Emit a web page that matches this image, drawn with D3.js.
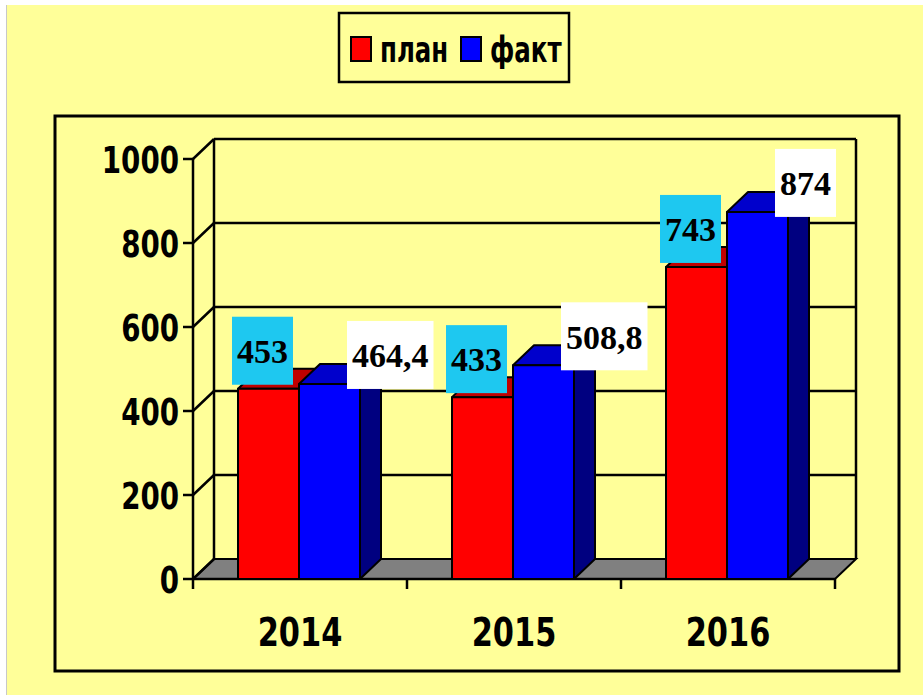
<!DOCTYPE html>
<html>
<head>
<meta charset="utf-8">
<script src="https://cdn.jsdelivr.net/npm/d3@7"></script>
<style>
  html, body { margin: 0; padding: 0; background: #fff; }
  svg { display: block; }
  .narrow { font-family: "DejaVu Sans", sans-serif; font-weight: bold; }
  .lbl { font-family: "Liberation Serif", "Times New Roman", serif; font-weight: bold; }
</style>
</head>
<body>
<svg id="chart" width="923" height="695"></svg>
<script>
// data
var years = ["2014", "2015", "2016"];
var seriesNames = ["план", "факт"];
var plan = [453, 433, 743];
var fact = [464.4, 508.8, 874];
var planLabels = ["453", "433", "743"];
var factLabels = ["464,4", "508,8", "874"];
var yTicks = [0, 200, 400, 600, 800, 1000];

var svg = d3.select("#chart");

var bg = "#ffff99",
    colors = {
      plan: {front: "#ff0000", top: "#c00000", side: "#990000"},
      fact: {front: "#0000ff", top: "#0000cc", side: "#000080"}
    },
    depth = {dx: 21, dy: -20};

// condensed bold text: DejaVu squeezed horizontally
function narrowText(sel, tx, ty, size, sx, anchor, txt) {
  var gg = sel.append("g").attr("transform", "translate(" + tx + "," + ty + ") scale(" + sx + ",1)");
  return gg.append("text").attr("class", "narrow")
      .attr("font-size", size).attr("text-anchor", anchor).text(txt);
}

// page background (white margin on top/left like the slide capture)
svg.append("rect").attr("width", 923).attr("height", 695).attr("fill", "#fff");
svg.append("rect").attr("x", 6).attr("y", 5).attr("width", 917).attr("height", 690)
    .attr("fill", bg);
svg.append("line").attr("x1", 6.5).attr("x2", 6.5).attr("y1", 5).attr("y2", 695)
    .attr("stroke", "#c8c8c8");

// chart frame
svg.append("rect").attr("x", 55).attr("y", 116).attr("width", 844).attr("height", 555)
    .attr("fill", bg).attr("stroke", "#000").attr("stroke-width", 3);

// scales
var x = d3.scaleBand().domain(years).range([193, 835]);
var inner = d3.scaleBand().domain(seriesNames).range([45, 45 + 122]);
var y = d3.scaleLinear().domain([0, 1000]).range([579, 159]);

var x0 = x.range()[0], x1 = x.range()[1];
var g = svg.append("g");

// floor
g.append("polygon")
    .attr("points", [[x0, y(0)], [x1, y(0)], [x1 + depth.dx, y(0) + depth.dy], [x0 + depth.dx, y(0) + depth.dy]].join(" "))
    .attr("fill", "#808080").attr("stroke", "#000").attr("stroke-width", 2);

// back wall gridlines + side wall diagonals
var grid = g.append("g").attr("stroke", "#000").attr("stroke-width", 2.5);
yTicks.forEach(function(t) {
  if (t > 0) {
    grid.append("line")
        .attr("x1", x0 + depth.dx).attr("x2", x1 + depth.dx)
        .attr("y1", y(t) + depth.dy).attr("y2", y(t) + depth.dy);
  }
  grid.append("line")
      .attr("x1", x0).attr("x2", x0 + depth.dx)
      .attr("y1", y(t)).attr("y2", y(t) + depth.dy);
  grid.append("line")
      .attr("x1", x0 - 10).attr("x2", x0)
      .attr("y1", y(t)).attr("y2", y(t));
});
grid.append("line").attr("x1", x0 + depth.dx).attr("x2", x0 + depth.dx)
    .attr("y1", y(0) + depth.dy).attr("y2", y(1000) + depth.dy);
grid.append("line").attr("x1", x1 + depth.dx).attr("x2", x1 + depth.dx)
    .attr("y1", y(0) + depth.dy).attr("y2", y(1000) + depth.dy);
grid.append("line").attr("x1", x0).attr("x2", x0)
    .attr("y1", y(0)).attr("y2", y(1000));

// x axis line + ticks
grid.append("line").attr("x1", x0).attr("x2", x1).attr("y1", y(0)).attr("y2", y(0));
years.concat(["end"]).forEach(function(d, i) {
  var xx = i < years.length ? x(d) : x1;
  grid.append("line").attr("x1", xx).attr("x2", xx).attr("y1", y(0)).attr("y2", y(0) + 10);
});

// y tick labels
var yl = g.append("g");
yTicks.forEach(function(d) {
  narrowText(yl, 179, y(d), 38, 0.73, "end", d).attr("dy", "0.36em");
});

// year labels
var xl = g.append("g");
years.forEach(function(d) {
  narrowText(xl, x(d) + x.bandwidth() / 2, 646, 39, 0.78, "middle", d);
});

// 3d bars
function drawBar(cat, key, value, col) {
  var bx = x(cat) + inner(key), bw = inner.bandwidth();
  var top = y(value), base = y(0);
  var b = g.append("g").attr("stroke", "#000").attr("stroke-width", 2).attr("stroke-linejoin", "round");
  b.append("polygon")
      .attr("points", [[bx + bw, top], [bx + bw + depth.dx, top + depth.dy], [bx + bw + depth.dx, base + depth.dy], [bx + bw, base]].join(" "))
      .attr("fill", col.side);
  b.append("polygon")
      .attr("points", [[bx, top], [bx + bw, top], [bx + bw + depth.dx, top + depth.dy], [bx + depth.dx, top + depth.dy]].join(" "))
      .attr("fill", col.top);
  b.append("rect")
      .attr("x", bx).attr("y", top).attr("width", bw).attr("height", base - top)
      .attr("fill", col.front);
}

years.forEach(function(d, i) {
  drawBar(d, "план", plan[i], colors.plan);
  drawBar(d, "факт", fact[i], colors.fact);
});

// value labels
function drawLabel(cat, key, value, txt, fill) {
  var bx = x(cat) + inner(key), bw = inner.bandwidth();
  var lg = g.append("g");
  var t = lg.append("text").attr("class", "lbl").attr("font-size", 34).text(txt);
  var w = t.node().getComputedTextLength() + 10, h = 68;
  var lx, ly;
  if (key === "план") {
    lx = bx + bw / 2 - 6 - w / 2;
    ly = y(value) - 4 - h;
  } else {
    lx = bx + bw - 13;
    ly = y(value) + 5 - h;
  }
  lg.insert("rect", "text").attr("x", lx).attr("y", ly).attr("width", w).attr("height", h).attr("fill", fill);
  t.attr("x", lx + w / 2).attr("y", ly + h / 2).attr("dy", "0.36em").attr("text-anchor", "middle");
}

years.forEach(function(d, i) {
  drawLabel(d, "план", plan[i], planLabels[i], "#1ec8f0");
  drawLabel(d, "факт", fact[i], factLabels[i], "#ffffff");
});

// legend
var legend = svg.append("g");
legend.append("rect").attr("x", 339).attr("y", 13).attr("width", 230).attr("height", 69)
    .attr("fill", bg).attr("stroke", "#000").attr("stroke-width", 2.5);
seriesNames.forEach(function(d, i) {
  var lx = 351 + i * 110;
  legend.append("rect").attr("x", lx).attr("y", 37).attr("width", 20).attr("height", 24)
      .attr("fill", i === 0 ? colors.plan.front : colors.fact.front)
      .attr("stroke", "#000").attr("stroke-width", 2);
  narrowText(legend, lx + 29, 62, 36, 0.68, "start", d);
});
</script>
</body>
</html>
